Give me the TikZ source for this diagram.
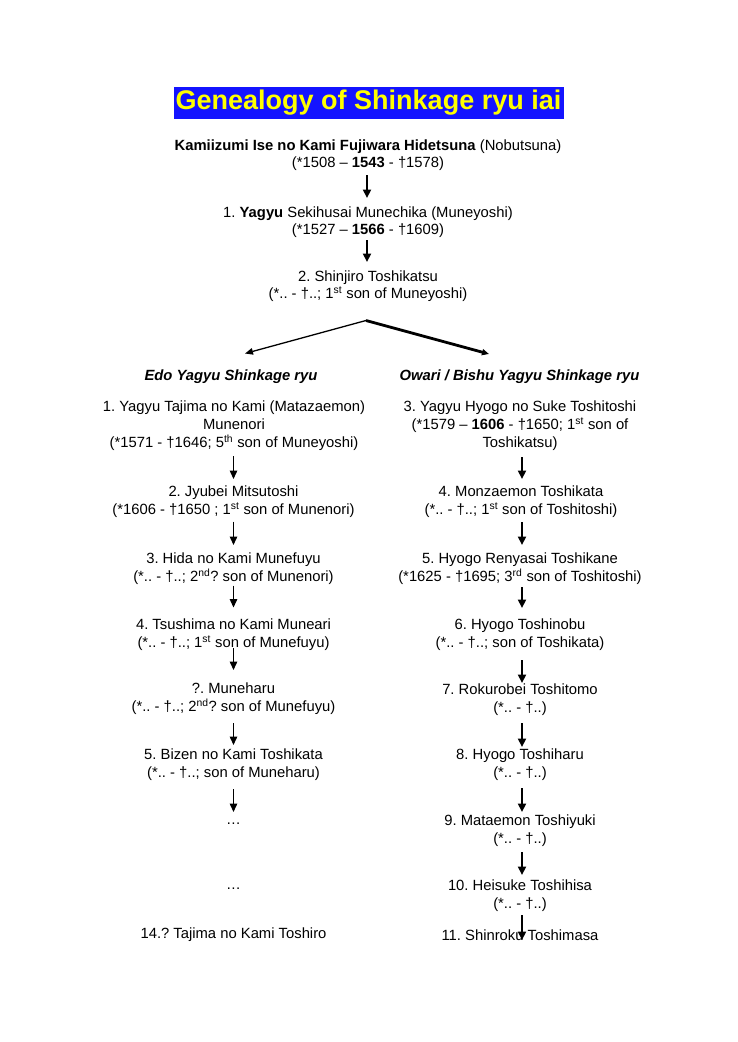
\documentclass[tikz,border=0pt]{standalone}
\usepackage{fontspec}
\setmainfont{Liberation Sans}
\usetikzlibrary{arrows.meta,calc}
\definecolor{titleblue}{RGB}{20,20,255}
\definecolor{titleyellow}{RGB}{255,255,0}
\tikzset{
  txt/.style={font=\fontsize{14.8}{18}\selectfont, align=center, inner sep=0pt},
  toptxt/.style={txt, font=\fontsize{14.8}{17}\selectfont},
  head/.style={txt, font=\fontsize{14.8}{18}\selectfont\bfseries\itshape},
  thickarr/.style={-{Triangle[length=8.5pt,width=8pt]}, line width=2.5pt},
  thinarr/.style={-{Triangle[length=8.5pt,width=7.5pt]}, line width=1.4pt},
}
\newcommand{\sps}[1]{\textsuperscript{#1}}
\frenchspacing
\begin{document}
\begin{tikzpicture}[x=1pt,y=-1pt]
\useasboundingbox (0,0) rectangle (737,1042);
\fill[white] (0,0) rectangle (737,1042);
% title
\node[fill=titleblue, text=titleyellow, font=\fontsize{27}{30}\selectfont\bfseries,
      minimum width=390pt, minimum height=32.5pt, inner sep=0pt] (title) at (368.5,103) {Genealogy of Shinkage ryu iai};
% top chain
\node[toptxt] (kam) at (368,155) {\textbf{Kamiizumi Ise no Kami Fujiwara Hidetsuna} (Nobutsuna)\\(*1508 -- \textbf{1543} - †1578)};
\node[toptxt] (yag) at (368,222) {1. \textbf{Yagyu} Sekihusai Munechika (Muneyoshi)\\(*1527 -- \textbf{1566} - †1609)};
\node[toptxt] (shin) at (368,286) {2. Shinjiro Toshikatsu\\(*.. - †..; 1\sps{st} son of Muneyoshi)};
\draw[thickarr] ($(kam.center)+(-1,20)$) -- ($(yag.center)+(-1,-24)$);
\draw[thickarr] ($(yag.center)+(-1,18)$) -- ($(shin.center)+(-1,-24)$);
% branch
\coordinate (apex) at (366,320.5);
\coordinate (ltip) at (245,353.5);
\coordinate (rtip) at (489,354);
\draw[line width=1.3pt, -{Triangle[length=8pt,width=6.5pt]}] (apex) -- (ltip);
\draw[line width=2.8pt, -{Triangle[length=7pt,width=6pt]}] (apex) -- (rtip);
% headings
\node[head] (edo) at (231,377) {Edo Yagyu Shinkage ryu};
\node[head] (owa) at (519.5,377) {Owari / Bishu Yagyu Shinkage ryu};
% left column
\node[txt] (l1) at (234,426) {1. Yagyu Tajima no Kami (Matazaemon)\\Munenori\\(*1571 - †1646; 5\sps{th} son of Muneyoshi)};
\node[txt] (l2) at (233.5,501.5) {2. Jyubei Mitsutoshi\\(*1606 - †1650 ; 1\sps{st} son of Munenori)};
\node[txt] (l3) at (233.5,569) {3. Hida no Kami Munefuyu\\(*.. - †..; 2\sps{nd}? son of Munenori)};
\node[txt] (l4) at (233.5,634.5) {4. Tsushima no Kami Muneari\\(*.. - †..; 1\sps{st} son of Munefuyu)};
\node[txt] (l5) at (233.5,699) {?. Muneharu\\(*.. - †..; 2\sps{nd}? son of Munefuyu)};
\node[txt] (l6) at (233.5,765) {5. Bizen no Kami Toshikata\\(*.. - †..; son of Muneharu)};
\node[txt] (l7) at (233.5,824) {…};
\node[txt] (l8) at (233.5,889) {…};
\node[txt] (l9) at (233.5,935) {14.? Tajima no Kami Toshiro};
\draw[thinarr] ($(l1.center)+(-0.5,30)$) -- ($(l2.center)+(0,-22.5)$);
\draw[thinarr] ($(l2.center)+(0,20)$) -- ($(l3.center)+(0,-24)$);
\draw[thinarr] ($(l3.center)+(0,16.5)$) -- ($(l4.center)+(0,-27)$);
\draw[thinarr] ($(l4.center)+(0,13.5)$) -- ($(l5.center)+(0,-29)$);
\draw[thinarr] ($(l5.center)+(0,24)$) -- ($(l6.center)+(0,-20)$);
\draw[thinarr] ($(l6.center)+(0,24)$) -- ($(l7.center)+(0,-12)$);
% right column
\node[txt] (r1) at (520,426) {3. Yagyu Hyogo no Suke Toshitoshi\\(*1579 -- \textbf{1606} - †1650; 1\sps{st} son of\\Toshikatsu)};
\node[txt] (r2) at (521,502) {4. Monzaemon Toshikata\\(*.. - †..; 1\sps{st} son of Toshitoshi)};
\node[txt] (r3) at (520,569) {5. Hyogo Renyasai Toshikane\\(*1625 - †1695; 3\sps{rd} son of Toshitoshi)};
\node[txt] (r4) at (520,634.5) {6. Hyogo Toshinobu\\(*.. - †..; son of Toshikata)};
\node[txt] (r5) at (520,699.5) {7. Rokurobei Toshitomo\\(*.. - †..)};
\node[txt] (r6) at (520,765) {8. Hyogo Toshiharu\\(*.. - †..)};
\node[txt] (r7) at (520,831) {9. Mataemon Toshiyuki\\(*.. - †..)};
\node[txt] (r8) at (520,896) {10. Heisuke Toshihisa\\(*.. - †..)};
\node[txt] (r9) at (520,935) {11. Shinroku Toshimasa};
\draw[thickarr] ($(r1.center)+(2,31)$) -- ($(r2.center)+(1,-23)$);
\draw[thickarr] ($(r2.center)+(1,20)$) -- ($(r3.center)+(2,-24)$);
\draw[thickarr] ($(r3.center)+(2,18)$) -- ($(r4.center)+(2,-26.5)$);
\draw[thickarr] ($(r4.center)+(2,25.5)$) -- ($(r5.center)+(2,-16.5)$);
\draw[thickarr] ($(r5.center)+(2,23.5)$) -- ($(r6.center)+(2,-18)$);
\draw[thickarr] ($(r6.center)+(2,23)$) -- ($(r7.center)+(2,-19)$);
\draw[thickarr] ($(r7.center)+(2,21)$) -- ($(r8.center)+(2,-21)$);
\draw[thickarr] ($(r8.center)+(2,19)$) -- ($(r9.center)+(2,5)$);
\end{tikzpicture}
\end{document}
